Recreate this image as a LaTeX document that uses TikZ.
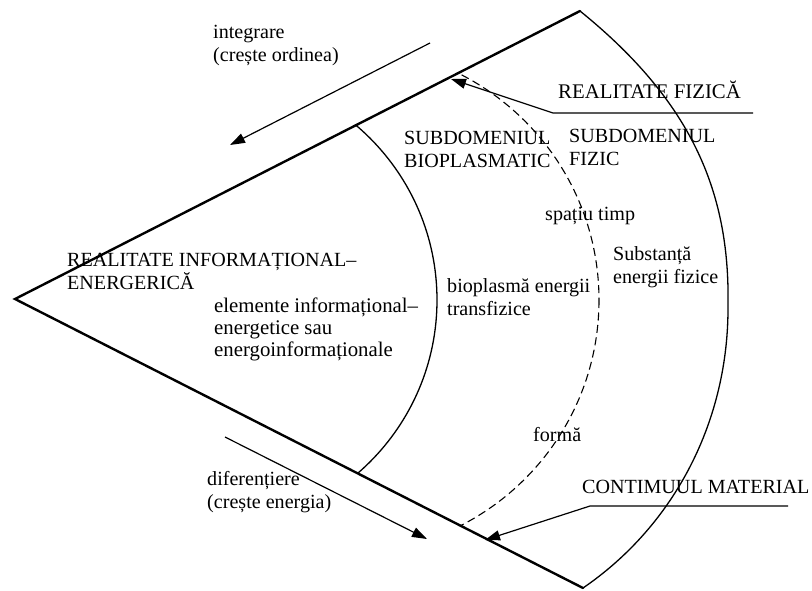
\documentclass[tikz,border=0pt]{standalone}
\usepackage{fontspec}
\setmainfont{Liberation Serif}
\usetikzlibrary{arrows.meta,calc}
\begin{document}
\begin{tikzpicture}[x=1pt,y=-1pt,
  lbl/.style={anchor=base west,inner sep=0pt,align=left,font=\fontsize{20.1}{23}\selectfont},
  edge/.style={line width=2.4pt,line cap=round,line join=miter},
  arcline/.style={line width=1.3pt},
  dashline/.style={line width=1.1pt,dash pattern=on 8pt off 4.5pt},
  ptr/.style={line width=1.2pt,-{Triangle[length=15pt,width=10pt]}}]
\useasboundingbox (0,0) rectangle (812,590);
% wedge corners
\coordinate (A) at (15,299);
\coordinate (U) at (580,11);
\coordinate (L) at (583,588);
\coordinate (P) at (728,305);
% inner arcs, clipped to the wedge
\begin{scope}
  \clip (A) -- ($(A)!2!(U)$) -- ($(A)!2!(L)$) -- cycle;
  \clip (300,-300) rectangle (900,900);
  \draw[arcline] (208,300) circle[radius=229];
  \draw[dashline] (346,300) circle[radius=253];
\end{scope}
% outer curve
\draw[arcline] (U) .. controls (690,100) and (730,190) .. (P)
               .. controls (729,420) and (675,525) .. (L);
% wedge edges
\draw[edge] (U) -- (A) -- (L);
% texts
\node[lbl] (integ) at (213,61) {integrare\\(crește ordinea)};
\node[lbl] (difer) at (207,508) {diferențiere\\(crește energia)};
\node[lbl,font=\fontsize{20.8}{23}\selectfont] (rf) at (558,98) {REALITATE FIZICĂ};
\node[lbl] (cm) at (582,493) {CONTIMUUL MATERIAL};
\node[lbl] (sb) at (404,167) {SUBDOMENIUL\\BIOPLASMATIC};
\node[lbl] (sf) at (569,165) {SUBDOMENIUL\\FIZIC};
\node[lbl] (st) at (545,220) {spațiu timp};
\node[lbl] (bio) at (447,315) {bioplasmă energii\\transfizice};
\node[lbl] (sub) at (613,283) {Substanță\\energii fizice};
\node[lbl] (forma) at (533,441) {formă};
\node[lbl] (rie) at (67,289) {REALITATE INFORMAȚIONAL–\\ENERGERICĂ};
\node[lbl,font=\fontsize{20.8}{22}\selectfont] (elem) at (214,356) {elemente informațional–\\energetice sau\\energoinformaționale};
% direction arrows
\coordinate (i1) at (430,43);
\coordinate (i2) at (230,145);
\coordinate (d1) at (225,437);
\coordinate (d2) at (427,539);
\draw[ptr] (i1) -- (i2);
\draw[ptr] (d1) -- (d2);
% pointers
\coordinate (rfR) at (753,113);
\coordinate (rfK) at (553,113);
\coordinate (rfT) at (451,79);
\coordinate (cmR) at (788,506);
\coordinate (cmK) at (590,506);
\coordinate (cmT) at (485,540);
\draw[ptr] (rfR) -- (rfK) -- (rfT);
\draw[ptr] (cmR) -- (cmK) -- (cmT);
\end{tikzpicture}
\end{document}
